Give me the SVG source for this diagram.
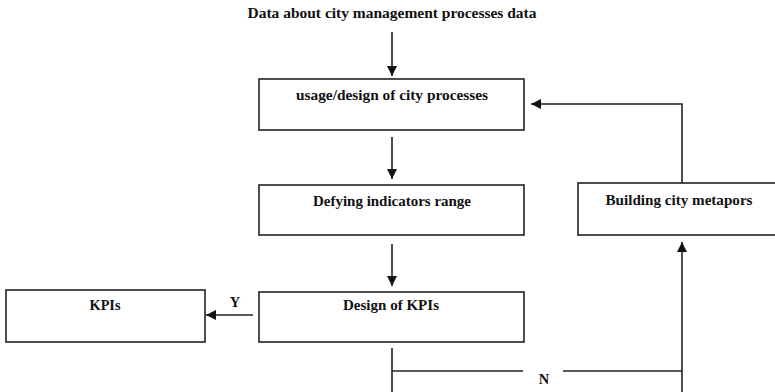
<svg xmlns="http://www.w3.org/2000/svg" width="775" height="392" viewBox="0 0 775 392">
  <style>
    .box { fill: #fff; stroke: #222; stroke-width: 1.6; }
    .lbl { font-family: "Liberation Serif", "Times New Roman", serif; font-weight: bold; font-size: 14.5px; fill: #111; text-anchor: middle; }
    .wire { fill: none; stroke: #222; stroke-width: 1.6; }
  </style>
  <defs>
    <marker id="head" viewBox="0 0 10 10" refX="10" refY="5" markerWidth="10" markerHeight="10" markerUnits="userSpaceOnUse" orient="auto">
      <path d="M0,0 L10,5 L0,10 Z" fill="#111"/>
    </marker>
  </defs>

  <rect width="775" height="392" fill="#fff"/>

  <g id="source">
    <text class="lbl" x="392" y="18" textLength="289" lengthAdjust="spacingAndGlyphs">Data about city management processes data</text>
  </g>

  <g id="usage-design">
    <rect class="box" x="259" y="79" width="265" height="51"/>
    <text class="lbl" x="392" y="100" textLength="192" lengthAdjust="spacingAndGlyphs">usage/design of city processes</text>
  </g>

  <g id="indicators-range">
    <rect class="box" x="259" y="185" width="265" height="50"/>
    <text class="lbl" x="392" y="206" textLength="158" lengthAdjust="spacingAndGlyphs">Defying indicators range</text>
  </g>

  <g id="kpi-design">
    <rect class="box" x="259" y="292" width="265" height="50"/>
    <text class="lbl" x="391" y="310" textLength="96" lengthAdjust="spacingAndGlyphs">Design of KPIs</text>
  </g>

  <g id="kpis">
    <rect class="box" x="6" y="290" width="199" height="52"/>
    <text class="lbl" x="105" y="310" textLength="31" lengthAdjust="spacingAndGlyphs">KPIs</text>
  </g>

  <g id="city-metaphors">
    <rect class="box" x="578" y="183" width="198" height="52"/>
    <text class="lbl" x="679" y="205" textLength="147" lengthAdjust="spacingAndGlyphs">Building city metapors</text>
  </g>

  <g id="connectors">
    <line class="wire" x1="392" y1="32" x2="392" y2="76" marker-end="url(#head)"/>
    <line class="wire" x1="392" y1="137" x2="392" y2="179" marker-end="url(#head)"/>
    <line class="wire" x1="392" y1="244" x2="392" y2="286" marker-end="url(#head)"/>
    <line class="wire" x1="253" y1="315" x2="206" y2="315" marker-end="url(#head)"/>
    <text class="lbl" x="235" y="307">Y</text>
    <line class="wire" x1="392" y1="348" x2="392" y2="392"/>
    <line class="wire" x1="392" y1="371" x2="523" y2="371"/>
    <line class="wire" x1="563" y1="371" x2="682" y2="371"/>
    <text class="lbl" x="544" y="384">N</text>
    <line class="wire" x1="682" y1="392" x2="682" y2="242" marker-end="url(#head)"/>
    <polyline class="wire" points="682,183 682,104 531,104" marker-end="url(#head)"/>
  </g>
</svg>
